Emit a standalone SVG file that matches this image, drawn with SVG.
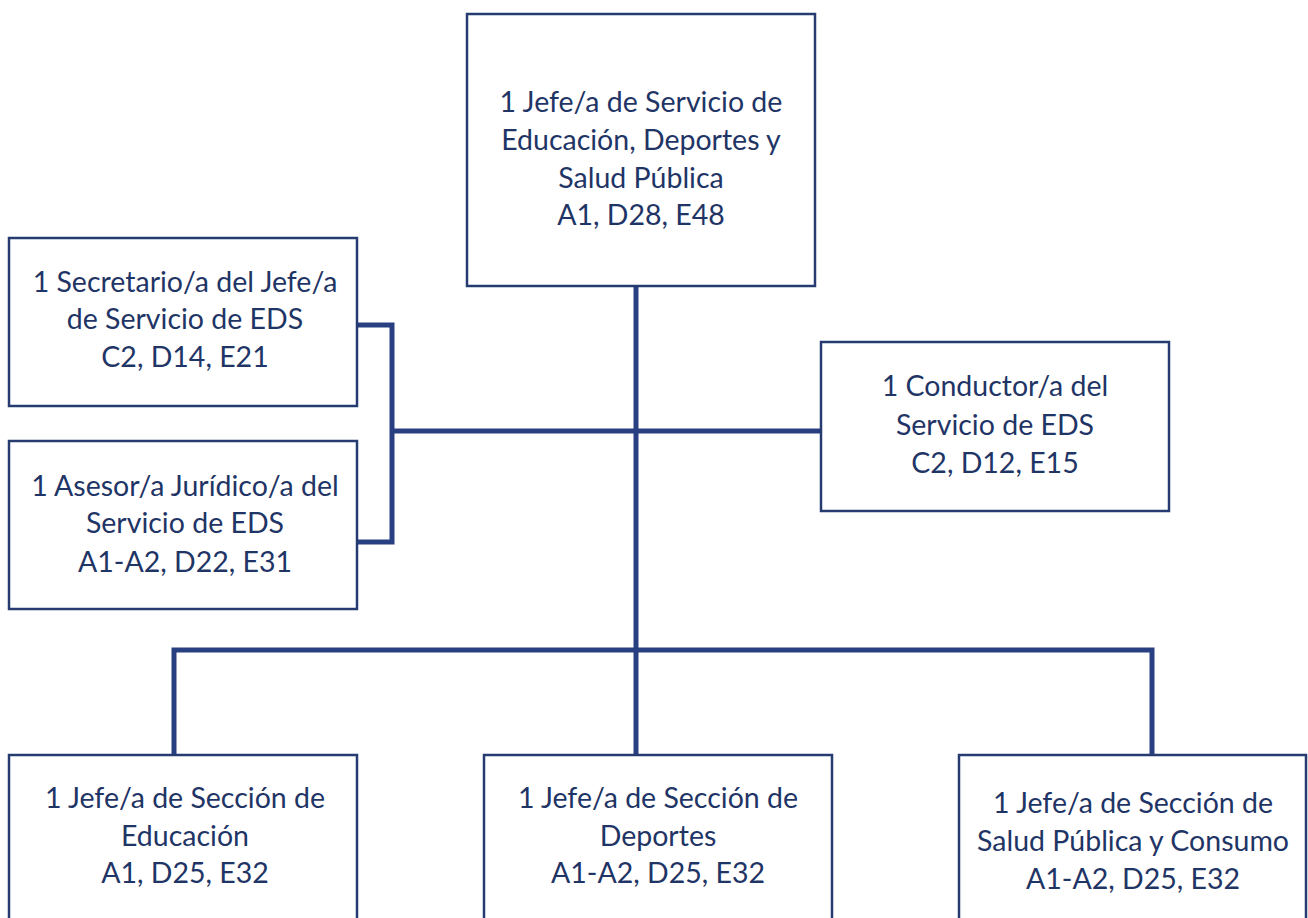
<svg xmlns="http://www.w3.org/2000/svg" width="1308" height="918" viewBox="0 0 1308 918">
<style>
.box{fill:#fff;stroke:#263c70;stroke-width:2.5}
.t{font-family:Lato,"Open Sans","Liberation Sans",sans-serif;font-size:28.5px;fill:#1f3566;text-anchor:middle}
.c{fill:none;stroke:#283f82;stroke-width:5}
</style>
<rect width="1308" height="918" fill="#fff"/>
<g id="connectors">
<path class="c" d="M636,286 V755"/>
<path class="c" d="M357,325 H392 V542 H357"/>
<path class="c" d="M392,431 H821"/>
<path class="c" d="M174,757 V650 H1152 V757"/>
</g>
<g id="n_jefe_servicio">
<rect class="box" x="467" y="14" width="348" height="272"/>
<text class="t" x="641" y="112">1 Jefe/a de Servicio de</text>
<text class="t" x="641" y="150">Educación, Deportes y</text>
<text class="t" x="641" y="188">Salud Pública</text>
<text class="t" x="641" y="225">A1, D28, E48</text>
</g>
<g id="n_secretario">
<rect class="box" x="9" y="238" width="348" height="168"/>
<text class="t" x="185" y="292">1 Secretario/a del Jefe/a</text>
<text class="t" x="185" y="329">de Servicio de EDS</text>
<text class="t" x="185" y="367">C2, D14, E21</text>
</g>
<g id="n_asesor">
<rect class="box" x="9" y="441" width="348" height="168"/>
<text class="t" x="185" y="496">1 Asesor/a Jurídico/a del</text>
<text class="t" x="185" y="533">Servicio de EDS</text>
<text class="t" x="185" y="572">A1-A2, D22, E31</text>
</g>
<g id="n_conductor">
<rect class="box" x="821" y="342" width="348" height="169"/>
<text class="t" x="995" y="396">1 Conductor/a del</text>
<text class="t" x="995" y="435">Servicio de EDS</text>
<text class="t" x="995" y="473">C2, D12, E15</text>
</g>
<g id="n_educacion">
<rect class="box" x="9" y="755" width="348" height="180"/>
<text class="t" x="185" y="808">1 Jefe/a de Sección de</text>
<text class="t" x="185" y="846">Educación</text>
<text class="t" x="185" y="883">A1, D25, E32</text>
</g>
<g id="n_deportes">
<rect class="box" x="484" y="755" width="348" height="180"/>
<text class="t" x="658" y="808">1 Jefe/a de Sección de</text>
<text class="t" x="658" y="846">Deportes</text>
<text class="t" x="658" y="883">A1-A2, D25, E32</text>
</g>
<g id="n_salud">
<rect class="box" x="959" y="755" width="347" height="180"/>
<text class="t" x="1133" y="813">1 Jefe/a de Sección de</text>
<text class="t" x="1133" y="851">Salud Pública y Consumo</text>
<text class="t" x="1133" y="889">A1-A2, D25, E32</text>
</g>
</svg>
